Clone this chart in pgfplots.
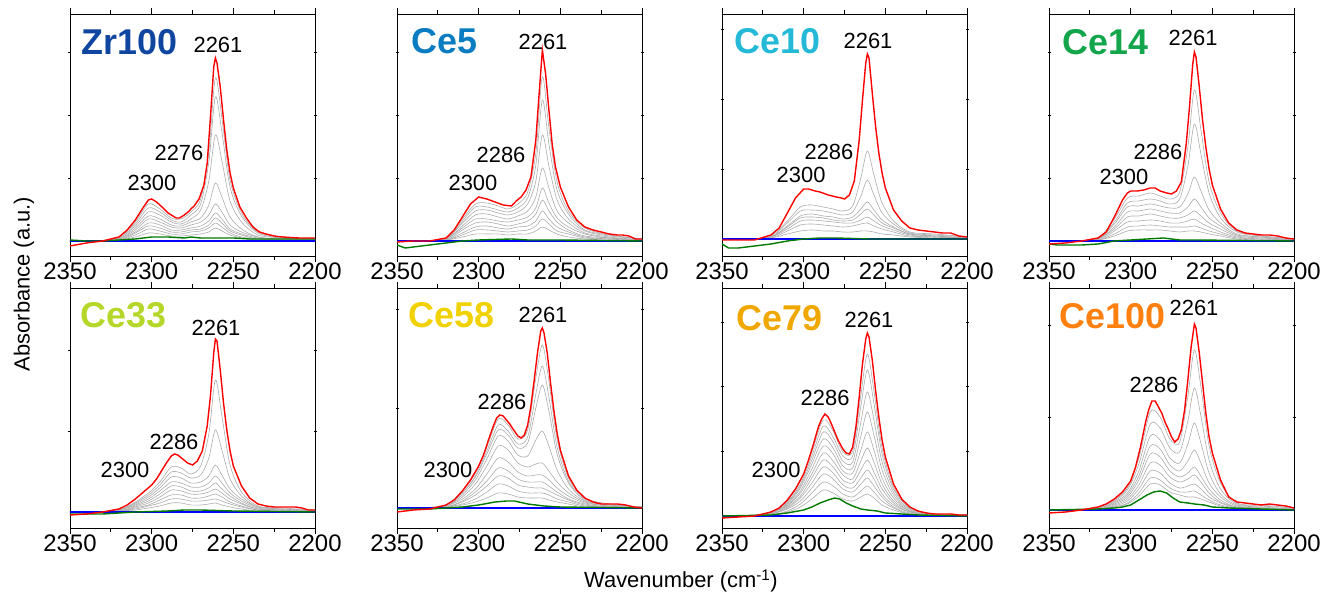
\documentclass[border=0pt]{standalone}
\usepackage{pgfplots}
\pgfplotsset{compat=1.18}
\usepackage{pgfplotstable}
\usepackage{fontspec}
\setmainfont{Liberation Sans}
\definecolor{cZr}{HTML}{10469F}
\definecolor{cA}{HTML}{0A7CC1}
\definecolor{cB}{HTML}{25B9D8}
\definecolor{cC}{HTML}{12A54B}
\definecolor{cD}{HTML}{B5D72A}
\definecolor{cE}{HTML}{F2D100}
\definecolor{cF}{HTML}{F0A800}
\definecolor{cG}{HTML}{FF7F0F}
\definecolor{dgreen}{HTML}{007A00}

\tikzset{
 nm/.style={anchor=west, font=\fontsize{36}{38}\selectfont\bfseries},
 pk/.style={anchor=center, font=\fontsize{22}{24}\selectfont},
}
\pgfplotsset{
 panel/.style={
   scale only axis, width=245bp,
   xmin=2200, xmax=2350, x dir=reverse,
   xtick={2350,2300,2250,2200},
   minor xtick={2325,2275,2225},
   ytick=\empty,
   extra y tick labels={},
   extra y tick style={tick align=center, major tick length=3bp},
   tick align=outside,
   major tick length=6bp, minor tick length=4bp,
   axis line style={line width=0.9bp},
   tick style={line width=0.9bp, black},
   /pgf/number format/1000 sep={},
   /pgf/number format/assume math mode=true,
   xticklabel style={font=\fontsize{24}{26}\selectfont, inner sep=0pt, yshift=-1bp},
   clip mode=individual,
 },
 gr/.style={color=gray!65, line width=0.6bp, smooth, no markers},
 rd/.style={color=red, line width=1.4bp, no markers},
 gn/.style={color=dgreen, line width=1.4bp, no markers},
 bl/.style={color=blue, line width=1.3bp, no markers},
}

\pgfplotstableread{
x g1 g2 g3 g4 g5 g6 g7 g8 g9
2350 0 0 0 0 0 0 0 0 0
2335 0 0 0 0 0 0 0 0 0
2320 4 3 3 2 2 2 1 1 1
2310 19 17 15 13 11 9 8 6 4
2302 37 33 29 25 22 18 15 12 8
2295 32 29 26 22 19 16 13 10 7
2288 23 21 19 16 14 11 9 7 5
2282 22 19 17 15 13 11 9 7 5
2276 29 26 22 19 16 13 11 9 6
2270 42 37 31 23 19 15 12 10 7
2265 89 79 60 36 26 20 16 13 9
2261 163 144 106 58 37 28 23 18 13
2257 123 109 80 44 29 22 18 14 10
2252 61 54 40 24 16 12 10 8 6
2245 28 25 19 12 9 7 6 4 3
2235 9 8 6 4 4 3 2 2 1
2220 4 3 3 2 1 1 1 1 0
2200 2 2 1 1 1 1 0 0 0
}\tabA
\pgfplotstableread{
x g1 g2 g3 g4 g5 g6 g7 g8 g9
2350 0 0 0 0 0 0 0 0 0
2335 0 0 0 0 0 0 0 0 0
2320 3 2 2 2 2 1 1 1 1
2310 22 20 18 15 13 11 8 6 4
2302 37 34 30 26 22 18 14 11 7
2295 38 34 31 27 22 19 15 11 7
2288 35 31 28 24 20 17 13 10 7
2282 32 29 26 22 19 15 12 9 6
2276 37 33 29 25 21 17 14 10 7
2270 49 43 37 30 24 20 15 11 7
2265 88 76 60 44 33 27 20 15 10
2261 164 141 106 73 53 41 30 22 14
2257 113 97 75 53 38 30 22 17 11
2252 59 51 41 30 23 19 14 10 7
2245 30 27 22 18 14 11 9 7 4
2235 13 11 10 8 7 5 4 3 2
2220 6 6 5 4 3 3 2 2 1
2200 2 2 2 1 1 1 1 1 0
}\tabB
\pgfplotstableread{
x g1 g2 g3 g4 g5 g6 g7
2350 0 0 0 0 0 0 0
2335 0 0 0 0 0 0 0
2320 3 2 2 2 2 1 1
2310 18 16 13 12 10 8 5
2302 32 28 23 21 18 14 8
2295 34 29 25 22 19 15 9
2288 32 28 23 21 18 14 8
2282 30 26 22 19 17 13 8
2276 28 24 20 18 16 12 7
2270 33 27 22 19 16 13 7
2265 61 43 30 25 19 15 8
2261 88 59 37 30 22 16 8
2257 64 44 29 24 18 13 7
2252 36 26 19 16 13 10 5
2245 18 15 12 11 9 7 4
2235 7 6 5 5 4 3 2
2220 5 4 3 3 2 2 1
2200 2 2 1 1 1 1 0
}\tabC
\pgfplotstableread{
x g1 g2 g3 g4 g5 g6 g7 g8
2350 0 0 0 0 0 0 0 0
2335 0 0 0 0 0 0 0 0
2320 3 2 2 2 2 1 1 1
2310 22 19 17 14 12 10 7 5
2302 43 38 34 29 24 19 14 10
2295 45 40 35 30 25 20 15 11
2288 48 42 37 32 27 21 16 11
2282 45 40 35 30 25 20 15 11
2276 42 37 33 28 23 18 14 10
2270 49 42 34 28 23 18 14 9
2265 94 75 47 34 26 20 14 10
2261 151 117 64 42 30 22 15 10
2257 111 87 50 34 25 18 13 9
2252 59 48 31 23 18 14 10 7
2245 28 23 18 15 12 9 7 5
2235 10 9 7 6 5 4 3 2
2220 5 5 4 4 3 2 2 1
2200 2 2 1 1 1 1 1 0
}\tabD
\pgfplotstableread{
x g1 g2 g3 g4 g5 g6 g7 g8 g9
2350 0 0 0 0 0 0 0 0 0
2335 0 0 0 0 0 0 0 0 0
2320 2 2 2 2 1 1 1 1 1
2310 10 9 8 7 6 5 4 3 2
2302 19 17 15 13 11 9 7 6 4
2295 30 27 24 21 18 15 12 9 6
2288 45 40 35 30 26 22 17 13 9
2282 44 39 34 29 25 21 17 13 9
2276 38 34 29 25 21 18 14 11 7
2270 46 37 30 25 21 18 14 11 7
2265 78 54 36 29 24 20 16 12 8
2261 132 82 47 36 29 23 18 13 9
2257 96 62 37 29 23 19 15 11 7
2252 47 33 23 19 16 13 10 8 5
2245 20 16 13 11 9 8 6 5 3
2235 6 5 5 4 3 3 2 2 1
2220 4 3 3 2 2 2 1 1 1
2200 2 2 1 1 1 1 1 0 0
}\tabE
\pgfplotstableread{
x g1 g2 g3 g4 g5 g6 g7 g8 g9 g10
2350 0 0 0 0 0 0 0 0 0 0
2335 0 0 0 0 0 0 0 0 0 0
2320 3 3 3 2 2 2 1 1 1 1
2310 17 15 15 13 11 9 7 6 4 3
2302 35 32 31 28 24 19 16 13 9 6
2295 61 57 54 49 42 34 27 22 16 10
2288 89 83 78 72 62 50 40 32 24 15
2282 83 77 73 67 58 46 37 30 22 14
2276 69 64 60 53 45 36 29 23 17 11
2270 78 71 65 52 41 32 26 21 15 10
2265 130 114 100 68 44 33 26 20 15 10
2261 163 142 123 77 45 33 26 20 15 10
2257 127 111 97 62 37 28 22 17 13 8
2252 69 61 54 38 26 20 16 13 9 6
2245 30 27 25 19 15 12 9 8 6 4
2235 10 9 8 7 6 5 4 3 2 1
2220 4 4 3 3 2 2 1 1 1 1
2200 1 1 1 1 1 0 0 0 0 0
}\tabF
\pgfplotstableread{
x g1 g2 g3 g4 g5 g6 g7 g8 g9 g10 g11
2350 0 0 0 0 0 0 0 0 0 0 0
2335 0 0 0 0 0 0 0 0 0 0 0
2320 4 4 3 3 3 3 2 2 2 1 1
2310 15 14 13 12 11 10 9 8 7 5 4
2302 35 32 30 28 25 23 20 18 15 12 9
2295 64 60 56 52 47 42 38 33 28 23 17
2288 96 90 84 77 70 63 56 49 42 34 26
2282 85 79 74 68 62 55 49 43 37 30 23
2276 64 60 55 50 45 41 36 31 27 22 17
2270 65 60 54 48 43 37 33 28 24 19 15
2265 121 110 94 80 66 55 46 38 32 25 19
2261 162 146 124 104 84 68 56 46 38 30 22
2257 125 113 96 81 66 54 44 37 30 24 18
2252 68 62 54 46 38 32 27 22 19 15 11
2245 29 27 24 21 18 15 13 11 9 8 6
2235 8 8 7 6 5 5 4 4 3 2 2
2220 2 2 2 2 1 1 1 1 1 1 1
2200 1 1 1 1 1 1 0 0 0 0 0
}\tabG
\pgfplotstableread{
x g1 g2 g3 g4 g5 g6 g7 g8 g9
2350 0 0 0 0 0 0 0 0 0
2335 0 0 0 0 0 0 0 0 0
2320 3 3 2 2 2 1 1 1 1
2310 10 9 8 7 6 5 4 3 3
2302 22 20 17 15 13 11 9 7 6
2295 52 46 39 34 30 25 21 17 14
2288 98 86 74 64 56 47 39 32 26
2282 93 82 70 61 53 45 37 30 25
2276 71 62 52 45 39 33 27 22 18
2270 68 58 47 39 33 28 22 18 15
2265 114 89 66 49 37 31 24 18 13
2261 160 122 87 60 43 35 26 19 13
2257 123 94 67 47 34 28 21 15 11
2252 64 50 37 27 21 17 13 10 8
2245 27 21 16 13 10 8 7 5 4
2235 7 6 5 4 3 3 2 2 1
2220 5 4 3 2 2 2 1 1 1
2200 2 2 1 1 1 1 0 0 0
}\tabH

\begin{document}
\begin{tikzpicture}[x=1bp,y=1bp]
\useasboundingbox (0,0) rectangle (1322,593);

% ---------- Zr100 ----------
\begin{axis}[panel, at={(70bp,337bp)}, anchor=south west, height=242bp,
  ymin=-15, ymax=227, extra y ticks={63,126,189}]
\pgfplotsinvokeforeach{g1,g2,g3,g4,g5,g6,g7,g8,g9}{\addplot[gr] table[x=x,y=#1]{\tabA};}
\addplot[bl] coordinates {(2350,0) (2200,0)};
\addplot[gn] coordinates {(2350,1) (2340,0) (2330,0) (2320,1) (2310,2) (2300,4) (2290,4) (2280,3) (2276,4) (2270,3) (2260,3) (2250,3) (2240,2) (2220,2) (2200,2)};
\addplot[rd] coordinates {(2350,-5) (2340,-2) (2330,0) (2320,4) (2315,11) (2310,21) (2305,34) (2302,41) (2300,42) (2297,39) (2293,33) (2290,28) (2285,23) (2283,23) (2280,26) (2277,30) (2276,32) (2274,35) (2271,42) (2268,56) (2266,78) (2264,124) (2262,174) (2261,183) (2260,178) (2258,154) (2256,121) (2254,91) (2252,68) (2250,53) (2246,34) (2242,23) (2238,14) (2234,9) (2230,7) (2225,5) (2220,4) (2210,3) (2200,3)};
\node[nm, text=cZr] at (2345.1,199) {Zr100};
\node[pk] at (2259.4,196) {2261};
\node[pk] at (2283.3,88) {2276};
\node[pk] at (2299.8,58) {2300};
\end{axis}

% ---------- Ce5 ----------
\begin{axis}[panel, at={(397bp,337bp)}, anchor=south west, height=242bp,
  ymin=-15, ymax=227, extra y ticks={63,126,189}]
\pgfplotsinvokeforeach{g1,g2,g3,g4,g5,g6,g7,g8,g9}{\addplot[gr] table[x=x,y=#1]{\tabB};}
\addplot[bl] coordinates {(2350,0) (2200,0)};
\addplot[gn] coordinates {(2350,-4) (2345,-7) (2340,-6) (2330,-4) (2320,-2) (2310,0) (2300,1) (2280,2) (2270,1) (2250,1) (2200,0)};
\addplot[rd] coordinates {(2350,-1) (2340,0) (2330,0) (2320,3) (2315,11) (2310,24) (2305,37) (2300,44) (2295,42) (2290,39) (2285,36) (2280,35) (2277,40) (2274,44) (2271,51) (2268,64) (2265,101) (2263,147) (2261,191) (2259,167) (2257,131) (2255,97) (2253,74) (2250,54) (2245,34) (2240,21) (2235,14) (2230,11) (2225,9) (2220,7) (2215,6) (2212,6) (2208,5) (2204,2) (2200,2)};
\node[nm, text=cA] at (2343.3,200) {Ce5};
\node[pk] at (2260.6,199) {2261};
\node[pk] at (2286.3,86) {2286};
\node[pk] at (2303.5,58) {2300};
\end{axis}

% ---------- Ce10 ----------
\begin{axis}[panel, at={(722bp,337bp)}, anchor=south west, height=242bp,
  ymin=-17, ymax=225, extra y ticks={70,140,210}]
\pgfplotsinvokeforeach{g1,g2,g3,g4,g5,g6,g7}{\addplot[gr] table[x=x,y=#1]{\tabC};}
\addplot[bl] coordinates {(2350,0) (2200,0)};
\addplot[gn] coordinates {(2350,-5) (2346,-9) (2340,-9) (2330,-7) (2320,-5) (2310,-2) (2300,0) (2290,1) (2280,1) (2260,0) (2200,0)};
\addplot[rd] coordinates {(2350,-1) (2340,-1) (2330,-1) (2320,4) (2315,11) (2310,26) (2305,41) (2300,50) (2297,50) (2293,48) (2290,47) (2285,44) (2280,42) (2277,41) (2275,40) (2272,44) (2269,58) (2266,99) (2264,139) (2262,176) (2261,185) (2260,181) (2258,146) (2256,113) (2254,86) (2252,66) (2250,51) (2245,29) (2240,18) (2235,11) (2230,9) (2225,8) (2220,7) (2215,6) (2210,6) (2205,3) (2200,2)};
\node[nm, text=cB] at (2344.5,198) {Ce10};
\node[pk] at (2260.6,198) {2261};
\node[pk] at (2284.5,87) {2286};
\node[pk] at (2301.6,64) {2300};
\end{axis}

% ---------- Ce14 ----------
\begin{axis}[panel, at={(1049bp,337bp)}, anchor=south west, height=242bp,
  ymin=-15, ymax=227, extra y ticks={63,126,189}]
\pgfplotsinvokeforeach{g1,g2,g3,g4,g5,g6,g7,g8}{\addplot[gr] table[x=x,y=#1]{\tabD};}
\addplot[bl] coordinates {(2350,0) (2200,0)};
\addplot[gn] coordinates {(2350,-3) (2345,-4) (2330,-4) (2320,-3) (2310,0) (2300,1) (2290,2) (2280,3) (2275,2) (2270,1) (2260,1) (2200,0)};
\addplot[rd] coordinates {(2350,-3) (2340,-2) (2330,0) (2320,3) (2315,9) (2310,24) (2305,41) (2302,48) (2300,50) (2296,50) (2292,51) (2288,53) (2285,53) (2282,50) (2278,48) (2275,47) (2272,50) (2269,59) (2266,97) (2264,134) (2262,177) (2261,189) (2260,184) (2258,154) (2256,121) (2254,94) (2252,72) (2250,56) (2245,32) (2240,18) (2235,11) (2230,8) (2225,7) (2220,6) (2215,6) (2210,5) (2205,3) (2200,2)};
\node[nm, text=cC] at (2343.9,199) {Ce14};
\node[pk] at (2261.8,203) {2261};
\node[pk] at (2283.3,89) {2286};
\node[pk] at (2304.1,64) {2300};
\end{axis}

% ---------- Ce33 ----------
\begin{axis}[panel, at={(70bp,65bp)}, anchor=south west, height=240bp,
  ymin=-16, ymax=224, extra y ticks={81,162}]
\pgfplotsinvokeforeach{g1,g2,g3,g4,g5,g6,g7,g8,g9}{\addplot[gr] table[x=x,y=#1]{\tabE};}
\addplot[bl] coordinates {(2350,0) (2200,0)};
\addplot[gn] coordinates {(2350,-2) (2330,-2) (2310,0) (2290,1) (2280,2) (2270,2) (2250,1) (2200,0)};
\addplot[rd] coordinates {(2350,-3) (2340,-2) (2330,0) (2320,3) (2315,7) (2310,13) (2305,20) (2300,27) (2297,33) (2294,41) (2291,49) (2288,56) (2286,58) (2284,57) (2281,53) (2278,49) (2275,47) (2272,51) (2269,61) (2266,86) (2264,116) (2262,159) (2261,173) (2260,171) (2258,142) (2256,109) (2254,82) (2252,61) (2250,46) (2245,26) (2240,14) (2235,8) (2230,6) (2225,5) (2220,5) (2215,5) (2212,5) (2208,4) (2204,2) (2200,2)};
\node[nm, text=cD] at (2345.7,197) {Ce33};
\node[pk] at (2260.6,184) {2261};
\node[pk] at (2286.3,70) {2286};
\node[pk] at (2316.3,42) {2300};
\end{axis}

% ---------- Ce58 ----------
\begin{axis}[panel, at={(397bp,65bp)}, anchor=south west, height=240bp,
  ymin=-20, ymax=220, extra y ticks={100,199}]
\pgfplotsinvokeforeach{g1,g2,g3,g4,g5,g6,g7,g8,g9,g10}{\addplot[gr] table[x=x,y=#1]{\tabF};}
\addplot[bl] coordinates {(2350,0) (2200,0)};
\addplot[gn] coordinates {(2350,-1) (2330,-1) (2310,1) (2300,3) (2290,6) (2283,7) (2278,7) (2270,4) (2260,2) (2250,1) (2200,0)};
\addplot[rd] coordinates {(2350,-4) (2340,-2) (2330,-1) (2320,3) (2315,8) (2310,17) (2305,28) (2300,42) (2297,53) (2294,68) (2291,82) (2289,90) (2287,93) (2285,92) (2283,88) (2281,84) (2279,79) (2276,72) (2274,70) (2272,73) (2270,83) (2268,102) (2266,128) (2264,155) (2262,177) (2261,180) (2260,175) (2258,155) (2256,125) (2254,98) (2252,75) (2250,58) (2245,32) (2240,18) (2235,10) (2230,6) (2225,4) (2220,4) (2215,4) (2210,3) (2205,1) (2200,0)};
\node[nm, text=cE] at (2345.1,193) {Ce58};
\node[pk] at (2260.6,193) {2261};
\node[pk] at (2285.7,106) {2286};
\node[pk] at (2318.8,38) {2300};
\end{axis}

% ---------- Ce79 ----------
\begin{axis}[panel, at={(722bp,65bp)}, anchor=south west, height=240bp,
  ymin=-12, ymax=228, extra y ticks={65,130,194}]
\pgfplotsinvokeforeach{g1,g2,g3,g4,g5,g6,g7,g8,g9,g10,g11}{\addplot[gr] table[x=x,y=#1]{\tabG};}
\addplot[bl] coordinates {(2350,0) (2200,0)};
\addplot[gn] coordinates {(2350,0) (2320,1) (2310,3) (2300,6) (2295,9) (2290,13) (2285,16) (2281,18) (2278,17) (2274,13) (2270,10) (2265,7) (2261,6) (2255,5) (2250,3) (2240,2) (2230,1) (2200,0)};
\addplot[rd] coordinates {(2350,-2) (2340,-1) (2330,0) (2320,4) (2315,8) (2310,16) (2305,27) (2300,42) (2297,56) (2294,72) (2291,89) (2289,97) (2287,102) (2285,99) (2283,92) (2281,84) (2279,76) (2276,67) (2274,63) (2272,62) (2270,69) (2268,89) (2266,119) (2264,152) (2262,177) (2261,183) (2260,179) (2258,156) (2256,126) (2254,99) (2252,76) (2250,59) (2245,32) (2240,17) (2235,9) (2230,5) (2225,3) (2220,2) (2210,2) (2205,1) (2200,1)};
\node[nm, text=cF] at (2343.3,198) {Ce79};
\node[pk] at (2260,196) {2261};
\node[pk] at (2286.9,118) {2286};
\node[pk] at (2316.9,46) {2300};
\end{axis}

% ---------- Ce100 ----------
\begin{axis}[panel, at={(1049bp,65bp)}, anchor=south west, height=240bp,
  ymin=-18, ymax=222, extra y ticks={93,185}]
\pgfplotsinvokeforeach{g1,g2,g3,g4,g5,g6,g7,g8,g9}{\addplot[gr] table[x=x,y=#1]{\tabH};}
\addplot[bl] coordinates {(2350,0) (2200,0)};
\addplot[gn] coordinates {(2350,0) (2320,1) (2310,2) (2305,3) (2300,5) (2295,10) (2290,15) (2286,18) (2282,19) (2278,17) (2274,12) (2270,8) (2265,7) (2261,6) (2255,5) (2250,3) (2240,2) (2200,0)};
\addplot[rd] coordinates {(2350,-3) (2340,-2) (2330,0) (2320,3) (2315,6) (2310,11) (2305,18) (2300,29) (2297,43) (2294,63) (2291,87) (2289,100) (2287,109) (2285,109) (2283,103) (2281,97) (2279,88) (2277,81) (2275,73) (2273,68) (2271,71) (2269,80) (2267,100) (2265,130) (2263,163) (2261,186) (2260,182) (2258,157) (2256,127) (2254,97) (2252,73) (2250,57) (2245,30) (2240,13) (2235,8) (2230,7) (2225,6) (2220,5) (2215,6) (2210,5) (2205,4) (2200,2)};
\node[nm, text=cG] at (2345.7,194) {Ce100};
\node[pk] at (2261.2,202) {2261};
\node[pk] at (2285.7,125) {2286};
\end{axis}

\node[font=\fontsize{22}{24}\selectfont] at (681,12) {Wavenumber (cm\textsuperscript{-1})};
\node[font=\fontsize{22}{24}\selectfont, rotate=90] at (24,309) {Absorbance (a.u.)};
\end{tikzpicture}
\end{document}
